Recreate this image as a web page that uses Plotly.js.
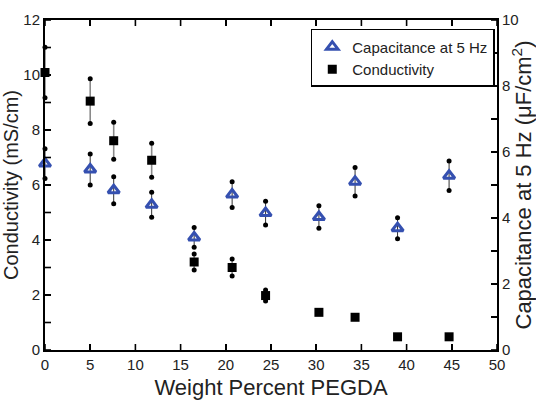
<!DOCTYPE html>
<html>
<head>
<meta charset="utf-8">
<script src="https://cdn.plot.ly/plotly-3.0.1.min.js"></script>
<style>html,body{margin:0;padding:0;background:#fff;}#chart{width:536px;height:405px;}</style>
</head>
<body>
<div id="chart"></div>
<script>
// Data
const weightPercent = [0, 5, 7.6, 11.8, 16.5, 20.7, 24.4, 30.3, 34.3, 39.0, 44.7];
const conductivity = [10.09, 9.05, 7.61, 6.9, 3.2, 3.0, 1.98, 1.37, 1.19, 0.48, 0.48];
const conductivityErr = [0.92, 0.81, 0.67, 0.62, 0.29, 0.31, 0.2, 0, 0, 0, 0];
const capacitance = [5.65, 5.47, 4.84, 4.40, 3.41, 4.71, 4.15, 4.03, 5.10, 3.69, 5.28];
const capacitanceErr = [0.45, 0.47, 0.41, 0.38, 0.30, 0.39, 0.36, 0.34, 0.43, 0.32, 0.45];
const xTicks = [0, 5, 10, 15, 20, 25, 30, 35, 40, 45, 50];
const leftTicks = [0, 1, 2, 3, 4, 5, 6, 7, 8, 9, 10, 11, 12];
const rightTicks = [0, 1, 2, 3, 4, 5, 6, 7, 8, 9, 10];
const tickLabel = v => (v % 2 === 0 ? String(v) : ' ');

function ends(vals, errs) {
  const xs = [], ys = [];
  vals.forEach((v, i) => {
    if (errs[i] > 0) {
      xs.push(weightPercent[i], weightPercent[i]);
      ys.push(v + errs[i], v - errs[i]);
    }
  });
  return {xs, ys};
}
const condEnds = ends(conductivity, conductivityErr);
const capEnds = ends(capacitance, capacitanceErr);

const blue = '#3550b0';
const tickFont = {family: '"Liberation Sans Narrow", "Arial Narrow", Arial, sans-serif', size: 15, color: '#222'};

const traces = [
  {x: weightPercent, y: conductivity, type: 'scatter', mode: 'markers', yaxis: 'y',
   marker: {size: 1, color: 'rgba(0,0,0,0)'}, showlegend: false, hoverinfo: 'skip', cliponaxis: false,
   error_y: {type: 'data', array: conductivityErr, visible: true, color: '#8a8a8a', thickness: 1.6, width: 0}},
  {x: condEnds.xs, y: condEnds.ys, type: 'scatter', mode: 'markers', yaxis: 'y',
   marker: {symbol: 'circle', size: 5, color: '#000'}, showlegend: false, hoverinfo: 'skip', cliponaxis: false},
  {x: weightPercent, y: capacitance, type: 'scatter', mode: 'markers', yaxis: 'y2',
   marker: {size: 1, color: 'rgba(0,0,0,0)'}, showlegend: false, hoverinfo: 'skip', cliponaxis: false,
   error_y: {type: 'data', array: capacitanceErr, visible: true, color: '#333', thickness: 1, width: 0}},
  {x: capEnds.xs, y: capEnds.ys, type: 'scatter', mode: 'markers', yaxis: 'y2',
   marker: {symbol: 'circle', size: 5, color: '#000'}, showlegend: false, hoverinfo: 'skip', cliponaxis: false},
  {x: weightPercent, y: capacitance, type: 'scatter', mode: 'markers', yaxis: 'y2',
   name: 'Capacitance at 5 Hz', cliponaxis: false,
   marker: {symbol: 'triangle-up-open', size: 10, color: blue, line: {color: blue, width: 3}}},
  {x: weightPercent, y: conductivity, type: 'scatter', mode: 'markers', yaxis: 'y',
   name: 'Conductivity', cliponaxis: false,
   marker: {symbol: 'square', size: 9, color: '#000'}}
];

// Plot-area size (for tick-mark length in paper units)
const W = 536, H = 405, M = {l: 45, r: 39, t: 20, b: 55};
const pw = W - M.l - M.r, ph = H - M.t - M.b;
const TL = 6; // tick length px
const tickLine = {color: '#000', width: 1.6};
const shapes = [];
xTicks.forEach(v => {
  shapes.push({type: 'line', xref: 'x', yref: 'paper', x0: v, x1: v, y0: 0, y1: TL / ph, line: tickLine, layer: 'above'});
  shapes.push({type: 'line', xref: 'x', yref: 'paper', x0: v, x1: v, y0: 1, y1: 1 - TL / ph, line: tickLine, layer: 'above'});
});
leftTicks.forEach(v => {
  shapes.push({type: 'line', xref: 'paper', yref: 'y', x0: 0, x1: TL / pw, y0: v, y1: v, line: tickLine, layer: 'above'});
});
rightTicks.forEach(v => {
  shapes.push({type: 'line', xref: 'paper', yref: 'y2', x0: 1, x1: 1 - TL / pw, y0: v, y1: v, line: tickLine, layer: 'above'});
});

const axisCommon = {
  showgrid: false, zeroline: false,
  showline: true, linecolor: '#000', linewidth: 2,
  ticks: 'inside', ticklen: TL, tickwidth: 1.6, tickcolor: '#000',
  tickfont: tickFont
};

const layout = {
  width: W, height: H,
  margin: M,
  paper_bgcolor: '#fff', plot_bgcolor: '#fff',
  font: {family: 'Arial, "Liberation Sans", sans-serif', color: '#222'},
  showlegend: true,
  shapes: shapes,
  legend: {
    x: 0.588, y: 0.973, xanchor: 'left', yanchor: 'top',
    bgcolor: '#fff', bordercolor: '#000', borderwidth: 1.5,
    font: {family: 'Arial, "Liberation Sans", sans-serif', size: 15, color: '#222'},
    itemwidth: 30, tracegroupgap: 0, traceorder: 'normal'
  },
  xaxis: Object.assign({}, axisCommon, {
    range: [0, 50], tickmode: 'array', tickvals: xTicks, ticktext: xTicks.map(String),
    mirror: 'ticks',
    title: {text: 'Weight Percent PEGDA', font: {size: 22, color: '#222'}, standoff: 8}
  }),
  yaxis: Object.assign({}, axisCommon, {
    range: [0, 12], tickmode: 'array', tickvals: leftTicks, ticktext: leftTicks.map(tickLabel),
    title: {text: 'Conductivity (mS/cm)', font: {size: 20, color: '#222'}, standoff: 2}
  }),
  yaxis2: Object.assign({}, axisCommon, {
    range: [0, 10], tickmode: 'array', tickvals: rightTicks, ticktext: rightTicks.map(tickLabel),
    overlaying: 'y', side: 'right',
    title: {text: 'Capacitance at 5 Hz (μF/cm<sup>2</sup>)', font: {size: 22, color: '#222'}, standoff: 2}
  })
};

Plotly.newPlot('chart', traces, layout, {displayModeBar: false, staticPlot: true});
</script>
</body>
</html>
